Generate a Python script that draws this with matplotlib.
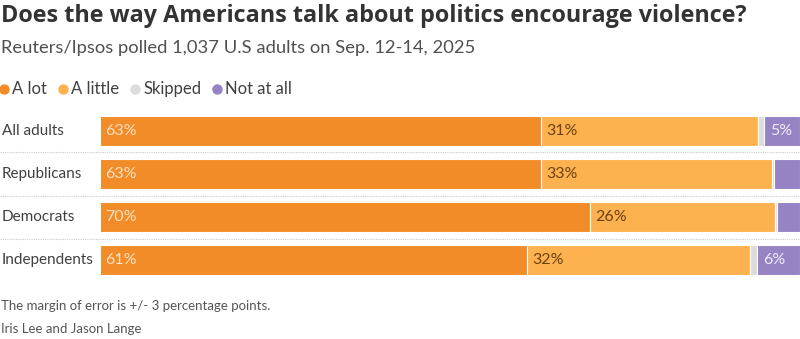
import matplotlib
matplotlib.use('Agg')
import matplotlib.pyplot as plt
import numpy as np

# data
groups = ['All adults', 'Republicans', 'Democrats', 'Independents']
a_lot = [63, 63, 70, 61]
a_little = [31, 33, 26.4, 31.9]
skipped = [0.9, 0.3, 0.3, 1.0]
not_at_all = [5.1, 3.7, 3.3, 6.1]
series_names = ['A lot', 'A little', 'Skipped', 'Not at all']

colors = ['#f28c28', '#fdb24f', '#dcdcdc', '#9683c3']
label_colors = ['#fde2c0', '#6a4212', '#555555', '#f0ecf8']

plt.rcParams['font.family'] = ['Lato', 'DejaVu Sans']

fig = plt.figure(figsize=(8, 3.39), dpi=100)
W, H = 800, 339

def fx(px):
    return px / W

def fy(py):
    return 1 - py / H

ax = fig.add_axes([fx(100), fy(281.5), fx(700), 172 / H])

y = np.arange(len(groups))
left = np.zeros(len(groups))
for vals, col, lcol in zip([a_lot, a_little, skipped, not_at_all], colors, label_colors):
    vals = np.array(vals)
    ax.barh(y, vals, left=left, height=0.7, color=col, edgecolor='white', linewidth=0.8)
    for yi, l, v in zip(y, left, vals):
        if v >= 5:
            ax.text(l + 0.8, yi, f'{round(v):.0f}%', va='center', ha='left',
                    fontsize=11.5, color=lcol)
    left = left + vals

ax.set_xlim(0, 100)
ax.set_ylim(3.5, -0.5)
ax.axis('off')

for yi, g in zip(y, groups):
    ax.text(-14.0, yi, g, va='center', ha='left', fontsize=11, color='#404040')

for ys in [0.5, 1.5, 2.5]:
    ax.plot([-14.3, 100], [ys, ys], color='#cccccc', lw=0.8, ls=(0, (1, 1)), clip_on=False)

fig.text(fx(1), fy(16), 'Does the way Americans talk about politics encourage violence?',
         fontsize=16.8, fontweight='bold', color='#333333', va='center', ha='left',
         family=['Open Sans', 'DejaVu Sans'])
fig.text(fx(1), fy(48), 'Reuters/Ipsos polled 1,037 U.S adults on Sep. 12-14, 2025',
         fontsize=13.2, color='#505050', va='center', ha='left')

# legend
fig.canvas.draw()
renderer = fig.canvas.get_renderer()
xpos = 4
for name, col in zip(series_names, colors):
    fig.lines.append(plt.Line2D([fx(xpos)], [fy(89)], marker='o', ms=6.5, color=col,
                                transform=fig.transFigure))
    t = fig.text(fx(xpos + 8), fy(89), name, fontsize=12, color='#404040',
                 va='center', ha='left')
    bb = t.get_window_extent(renderer)
    xpos = xpos + 8 + bb.width + 16

fig.text(fx(1), fy(306), 'The margin of error is +/- 3 percentage points.',
         fontsize=9.5, color='#555555', va='center', ha='left')
fig.text(fx(1), fy(329), 'Iris Lee and Jason Lange',
         fontsize=9.5, color='#555555', va='center', ha='left')

fig.savefig('out.png', dpi=100, facecolor='white')
